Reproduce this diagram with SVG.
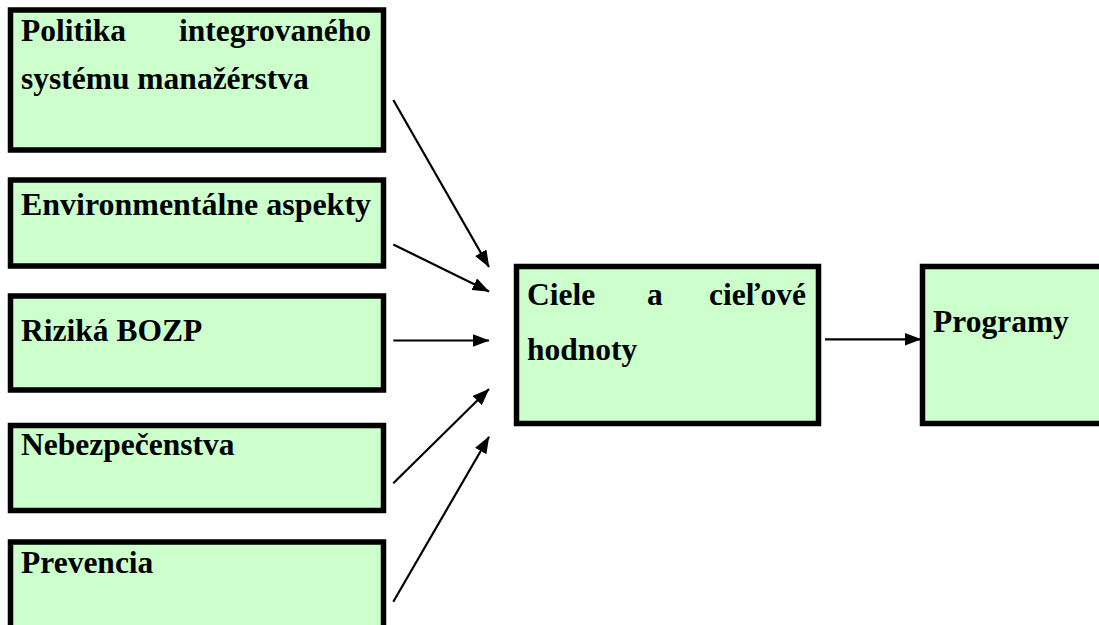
<svg xmlns="http://www.w3.org/2000/svg" width="1099" height="625" viewBox="0 0 1099 625">
  <style>
    .box { fill: #CCFFCC; stroke: #000; stroke-width: 5.5; }
    .lbl { font-family: "Liberation Serif", "Times New Roman", serif; font-weight: bold; font-size: 31.5px; fill: #000; }
    .conn { stroke: #000; stroke-width: 2.2; fill: none; marker-end: url(#arrow); }
  </style>
  <defs>
    <marker id="arrow" markerUnits="userSpaceOnUse" markerWidth="17" markerHeight="13" refX="16.5" refY="6.5" orient="auto">
      <path d="M0,0 L17,6.5 L0,13 Z" fill="#000"/>
    </marker>
  </defs>
  <rect width="1099" height="625" fill="#fff"/>

  <!-- input boxes -->
  <g id="politika">
    <rect class="box" x="10.5" y="10" width="373" height="140"/>
    <text class="lbl" x="21" y="41">Politika</text>
    <text class="lbl" x="371" y="41" text-anchor="end">integrovaného</text>
    <text class="lbl" x="21" y="89">systému manažérstva</text>
  </g>
  <g id="environmentalne">
    <rect class="box" x="10.5" y="180" width="373" height="86"/>
    <text class="lbl" x="21" y="215" textLength="350" lengthAdjust="spacingAndGlyphs">Environmentálne aspekty</text>
  </g>
  <g id="rizika">
    <rect class="box" x="10.5" y="296" width="373" height="94"/>
    <text class="lbl" x="21" y="341">Riziká BOZP</text>
  </g>
  <g id="nebezpecenstva">
    <rect class="box" x="10.5" y="425.5" width="373" height="85"/>
    <text class="lbl" x="21" y="455">Nebezpečenstva</text>
  </g>
  <g id="prevencia">
    <rect class="box" x="10.5" y="542" width="373" height="100"/>
    <text class="lbl" x="21" y="573">Prevencia</text>
  </g>

  <!-- target boxes -->
  <g id="ciele">
    <rect class="box" x="516.5" y="266.5" width="302" height="157"/>
    <text class="lbl" x="527" y="305">Ciele</text>
    <text class="lbl" x="647" y="305">a</text>
    <text class="lbl" x="806" y="305" text-anchor="end">cieľové</text>
    <text class="lbl" x="527" y="360">hodnoty</text>
  </g>
  <g id="programy">
    <rect class="box" x="922.5" y="266.5" width="190" height="157"/>
    <text class="lbl" x="933" y="332">Programy</text>
  </g>

  <!-- connectors -->
  <g id="connectors">
    <line class="conn" x1="393.3" y1="100" x2="489" y2="267"/>
    <line class="conn" x1="393.3" y1="244.5" x2="489" y2="291.5"/>
    <line class="conn" x1="393.3" y1="340.5" x2="489" y2="340.5"/>
    <line class="conn" x1="393.3" y1="483.3" x2="489" y2="389"/>
    <line class="conn" x1="393.3" y1="601.7" x2="489" y2="436.7"/>
    <line class="conn" x1="825" y1="339.3" x2="921" y2="339.3"/>
  </g>
</svg>
